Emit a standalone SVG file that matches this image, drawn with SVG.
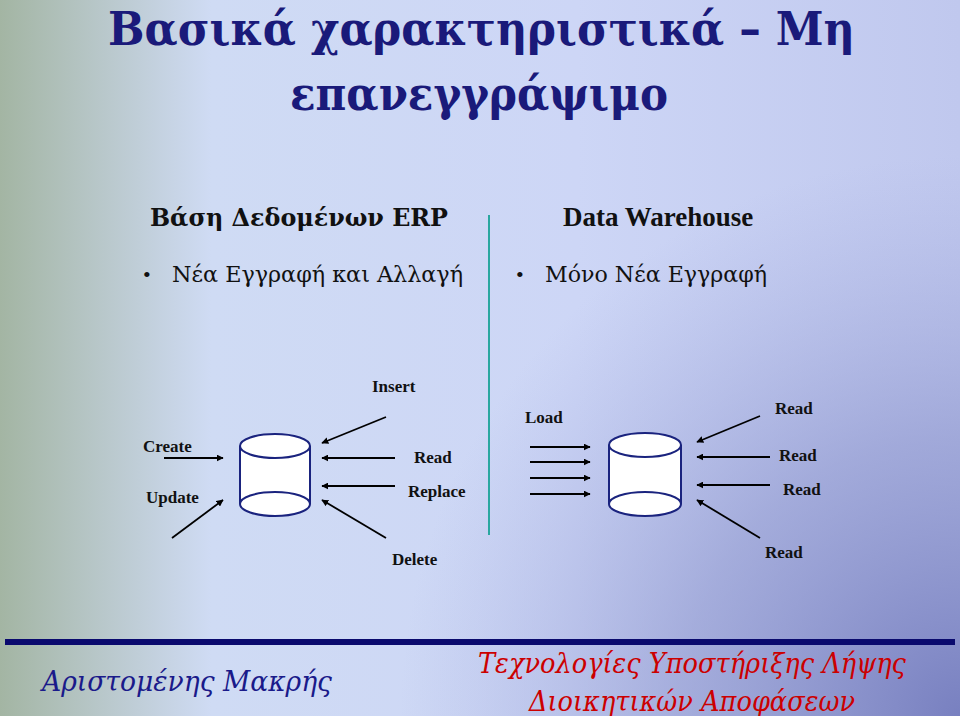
<svg xmlns="http://www.w3.org/2000/svg" width="960" height="716" viewBox="0 0 960 716">
<defs>
<linearGradient id="bg" x1="0" y1="0" x2="1" y2="0">
<stop offset="0" stop-color="#a3b5a3"/>
<stop offset="0.22" stop-color="#cfdbf4"/>
<stop offset="0.6" stop-color="#cdd6f6"/>
<stop offset="1" stop-color="#c0c8ee"/>
</linearGradient>
<radialGradient id="rg" cx="960" cy="716" r="560" gradientUnits="userSpaceOnUse">
<stop offset="0" stop-color="#7880c0" stop-opacity="1"/>
<stop offset="0.5" stop-color="#8c94cc" stop-opacity="0.6"/>
<stop offset="1" stop-color="#a0a8dc" stop-opacity="0"/>
</radialGradient>
<marker id="ah" viewBox="0 0 10 10" refX="9" refY="5" markerWidth="7" markerHeight="7" orient="auto" markerUnits="userSpaceOnUse">
<path d="M0,0 L10,5 L0,10 z" fill="#000"/>
</marker>
<style>
.t{font-family:"Liberation Serif","DejaVu Serif Condensed",serif;}
.g{font-family:"DejaVu Serif Condensed","DejaVu Serif",serif;}
.lbl{font-family:"Liberation Serif",serif;font-weight:bold;font-size:17px;fill:#111;}
.a{stroke:#000;stroke-width:1.8;fill:none;marker-end:url(#ah);}
.cyl{fill:#fff;stroke:#1a237e;stroke-width:2;}
</style>
</defs>
<rect width="960" height="716" fill="url(#bg)"/>
<rect width="960" height="716" fill="url(#rg)"/>
<g id="title" class="g" font-weight="bold" font-size="46" fill="#1a1a7a">
<text x="108" y="45" textLength="747" lengthAdjust="spacingAndGlyphs">Βασικά χαρακτηριστικά – Μη</text>
<text x="290" y="110" textLength="378" lengthAdjust="spacingAndGlyphs">επανεγγράψιμο</text>
</g>
<g id="headings" fill="#111">
<text class="g" x="150" y="226" font-size="25" font-weight="bold" textLength="298" lengthAdjust="spacingAndGlyphs">Βάση Δεδομένων ERP</text>
<text class="t" x="563" y="226" font-size="27" font-weight="bold">Data Warehouse</text>
<text class="t" x="143" y="282" font-size="22">•</text>
<text class="g" x="172" y="282" font-size="23" textLength="291" lengthAdjust="spacingAndGlyphs">Νέα Εγγραφή και Αλλαγή</text>
<text class="t" x="516" y="282" font-size="22">•</text>
<text class="g" x="545" y="282" font-size="23" textLength="222" lengthAdjust="spacingAndGlyphs">Μόνο Νέα Εγγραφή</text>
</g>
<line x1="489" y1="215" x2="489" y2="535" stroke="#2aa7a0" stroke-width="2"/>
<g id="db-erp">
<path class="cyl" d="M240,446 L240,504 A35,12 0 0 0 310,504 L310,446"/>
<ellipse class="cyl" cx="275" cy="446" rx="35" ry="12"/>
<path d="M240,504 A35,12 0 0 1 310,504" fill="none" stroke="#1a237e" stroke-width="2"/>
</g>
<g id="db-dw">
<path class="cyl" d="M609,445 L609,504 A36,12 0 0 0 681,504 L681,445"/>
<ellipse class="cyl" cx="645" cy="445" rx="36" ry="12"/>
<path d="M609,504 A36,12 0 0 1 681,504" fill="none" stroke="#1a237e" stroke-width="2"/>
</g>
<g id="connectors">
<line class="a" x1="164" y1="458" x2="223" y2="458"/>
<line class="a" x1="172" y1="538" x2="223" y2="500"/>
<line class="a" x1="386" y1="417" x2="322" y2="443"/>
<line class="a" x1="395" y1="458" x2="322" y2="458"/>
<line class="a" x1="395" y1="486" x2="322" y2="486"/>
<line class="a" x1="386" y1="538" x2="322" y2="500"/>
<line class="a" x1="530" y1="447" x2="590" y2="447"/>
<line class="a" x1="530" y1="462" x2="590" y2="462"/>
<line class="a" x1="530" y1="478" x2="590" y2="478"/>
<line class="a" x1="530" y1="494" x2="590" y2="494"/>
<line class="a" x1="760" y1="416" x2="697" y2="442"/>
<line class="a" x1="770" y1="457" x2="697" y2="457"/>
<line class="a" x1="770" y1="485" x2="697" y2="485"/>
<line class="a" x1="760" y1="538" x2="697" y2="500"/>
</g>
<g id="labels">
<text class="lbl" x="372" y="392">Insert</text>
<text class="lbl" x="143" y="452">Create</text>
<text class="lbl" x="146" y="503">Update</text>
<text class="lbl" x="414" y="463">Read</text>
<text class="lbl" x="408" y="497">Replace</text>
<text class="lbl" x="392" y="565">Delete</text>
<text class="lbl" x="525" y="423">Load</text>
<text class="lbl" x="775" y="414">Read</text>
<text class="lbl" x="779" y="461">Read</text>
<text class="lbl" x="783" y="495">Read</text>
<text class="lbl" x="765" y="558">Read</text>
</g>
<g id="footer" class="g" font-style="italic">
<rect x="5" y="639" width="950" height="6" fill="#0a0a6e"/>
<text x="42" y="691" font-size="27" fill="#1a1a8a" textLength="290" lengthAdjust="spacingAndGlyphs">Αριστομένης Μακρής</text>
<text x="478" y="673" font-size="27" fill="#cc0000" textLength="428" lengthAdjust="spacingAndGlyphs">Τεχνολογίες Υποστήριξης Λήψης</text>
<text x="529" y="711" font-size="27" fill="#cc0000" textLength="326" lengthAdjust="spacingAndGlyphs">Διοικητικών Αποφάσεων</text>
</g>
</svg>
